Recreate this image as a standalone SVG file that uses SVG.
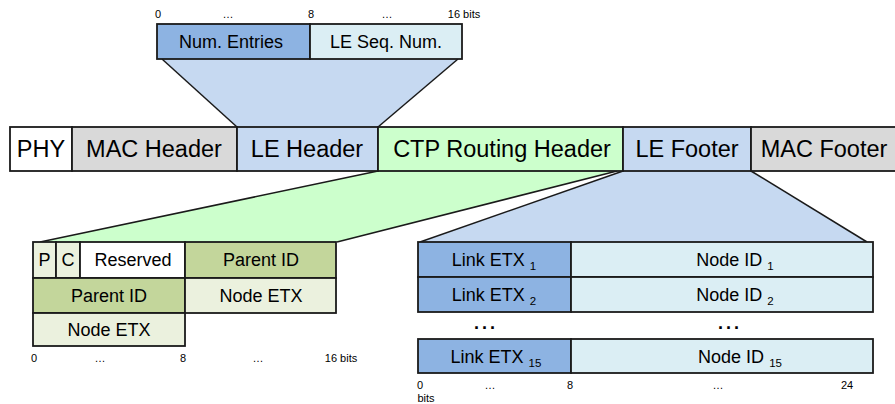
<svg xmlns="http://www.w3.org/2000/svg" width="895" height="404" viewBox="0 0 895 404">
<style>
text{font-family:"Liberation Sans",Arial,sans-serif;fill:#000;text-anchor:middle}
.big{font-size:23.5px}
.mid{font-size:18px}
.bit{font-size:11px}
.sub{font-size:11.5px}
.box{stroke:#1a1a1a;stroke-width:1.8}
.edge{stroke:#1a1a1a;stroke-width:1.5;fill:none}
.dots{font-size:18px;font-weight:bold;letter-spacing:3px}
</style>
<rect width="895" height="404" fill="#fff"/>
<g id="connectors">
<polygon points="162,59 458,59 378,127 237,127" fill="#C6D9F1"/>
<line class="edge" x1="162" y1="59" x2="237" y2="127"/>
<line class="edge" x1="458" y1="59" x2="378" y2="127"/>
<polygon points="378,171 617,171 337,242 40,242" fill="#CCFFCC"/>
<line class="edge" x1="378" y1="171" x2="40" y2="242"/>
<line class="edge" x1="617" y1="171" x2="337" y2="242"/>
<polygon points="623,171 751,171 867,242 420,242" fill="#C6D9F1"/>
<line class="edge" x1="623" y1="171" x2="420" y2="242"/>
<line class="edge" x1="751" y1="171" x2="867" y2="242"/>
</g>
<g id="top-bits">
<text class="bit" x="158" y="18">0</text>
<text class="bit" x="228" y="18">…</text>
<text class="bit" x="311" y="18">8</text>
<text class="bit" x="387" y="18">…</text>
<text class="bit" x="464" y="18">16 bits</text>
</g>
<g id="num-entries">
<rect class="box" x="157" y="24" width="153" height="35" fill="#8DB3E2"/>
<text class="mid" x="231" y="48">Num. Entries</text>
</g>
<g id="le-seq-num">
<rect class="box" x="310" y="24" width="152" height="35" fill="#DBEEF4"/>
<text class="mid" x="386" y="48">LE Seq. Num.</text>
</g>
<g id="phy">
<rect class="box" x="10" y="127" width="62" height="44" fill="#fff"/>
<text class="big" x="41" y="157">PHY</text>
</g>
<g id="mac-header">
<rect class="box" x="72" y="127" width="165" height="44" fill="#D9D9D9"/>
<text class="big" x="154" y="157">MAC Header</text>
</g>
<g id="le-header">
<rect class="box" x="237" y="127" width="141" height="44" fill="#C6D9F1"/>
<text class="big" x="307" y="157">LE Header</text>
</g>
<g id="ctp-routing-header">
<rect class="box" x="378" y="127" width="245" height="44" fill="#CCFFCC"/>
<text class="big" x="502" y="157">CTP Routing Header</text>
</g>
<g id="le-footer">
<rect class="box" x="623" y="127" width="128" height="44" fill="#C6D9F1"/>
<text class="big" x="687" y="157">LE Footer</text>
</g>
<g id="mac-footer">
<rect class="box" x="751" y="127" width="160" height="44" fill="#D9D9D9"/>
<text class="big" x="824" y="157">MAC Footer</text>
</g>
<g id="ctp-p">
<rect class="box" x="33" y="242" width="23" height="36" fill="#EBF1DE"/>
<text class="mid" x="44.5" y="266">P</text>
</g>
<g id="ctp-c">
<rect class="box" x="56" y="242" width="24" height="36" fill="#EBF1DE"/>
<text class="mid" x="68" y="266">C</text>
</g>
<g id="ctp-reserved">
<rect class="box" x="80" y="242" width="105" height="36" fill="#fff"/>
<text class="mid" x="133" y="266">Reserved</text>
</g>
<g id="ctp-parent-id-a">
<rect class="box" x="185" y="242" width="151" height="36" fill="#C3D69B"/>
<text class="mid" x="261" y="266">Parent ID</text>
</g>
<g id="ctp-parent-id-b">
<rect class="box" x="33" y="278" width="152" height="35" fill="#C3D69B"/>
<text class="mid" x="109" y="302">Parent ID</text>
</g>
<g id="ctp-node-etx-a">
<rect class="box" x="185" y="278" width="151" height="35" fill="#EBF1DE"/>
<text class="mid" x="261" y="302">Node ETX</text>
</g>
<g id="ctp-node-etx-b">
<rect class="box" x="33" y="313" width="152" height="33" fill="#EBF1DE"/>
<text class="mid" x="109" y="336">Node ETX</text>
</g>
<g id="ctp-bits">
<text class="bit" x="34" y="362">0</text>
<text class="bit" x="100" y="362">…</text>
<text class="bit" x="183" y="362">8</text>
<text class="bit" x="258" y="362">…</text>
<text class="bit" x="341" y="362">16 bits</text>
</g>
<g id="link-etx-1">
<rect class="box" x="418" y="242" width="153" height="35" fill="#8DB3E2"/>
<text class="mid" x="494" y="266">Link ETX <tspan class="sub" dy="4">1</tspan></text>
</g>
<g id="node-id-1">
<rect class="box" x="571" y="242" width="302" height="35" fill="#DBEEF4"/>
<text class="mid" x="735" y="266">Node ID <tspan class="sub" dy="4">1</tspan></text>
</g>
<g id="link-etx-2">
<rect class="box" x="418" y="277" width="153" height="35" fill="#8DB3E2"/>
<text class="mid" x="494" y="301">Link ETX <tspan class="sub" dy="4">2</tspan></text>
</g>
<g id="node-id-2">
<rect class="box" x="571" y="277" width="302" height="35" fill="#DBEEF4"/>
<text class="mid" x="735" y="301">Node ID <tspan class="sub" dy="4">2</tspan></text>
</g>
<g id="ellipsis">
<text class="dots" x="486" y="329">...</text>
<text class="dots" x="730" y="329">...</text>
</g>
<g id="link-etx-15">
<rect class="box" x="418" y="339" width="153" height="34" fill="#8DB3E2"/>
<text class="mid" x="496" y="363">Link ETX <tspan class="sub" dy="4">15</tspan></text>
</g>
<g id="node-id-15">
<rect class="box" x="571" y="339" width="302" height="34" fill="#DBEEF4"/>
<text class="mid" x="740" y="363">Node ID <tspan class="sub" dy="4">15</tspan></text>
</g>
<g id="le-footer-bits">
<text class="bit" x="420" y="389">0</text>
<text class="bit" x="426" y="402">bits</text>
<text class="bit" x="490" y="389">…</text>
<text class="bit" x="570" y="389">8</text>
<text class="bit" x="718" y="389">…</text>
<text class="bit" x="847" y="389">24</text>
</g>
</svg>
